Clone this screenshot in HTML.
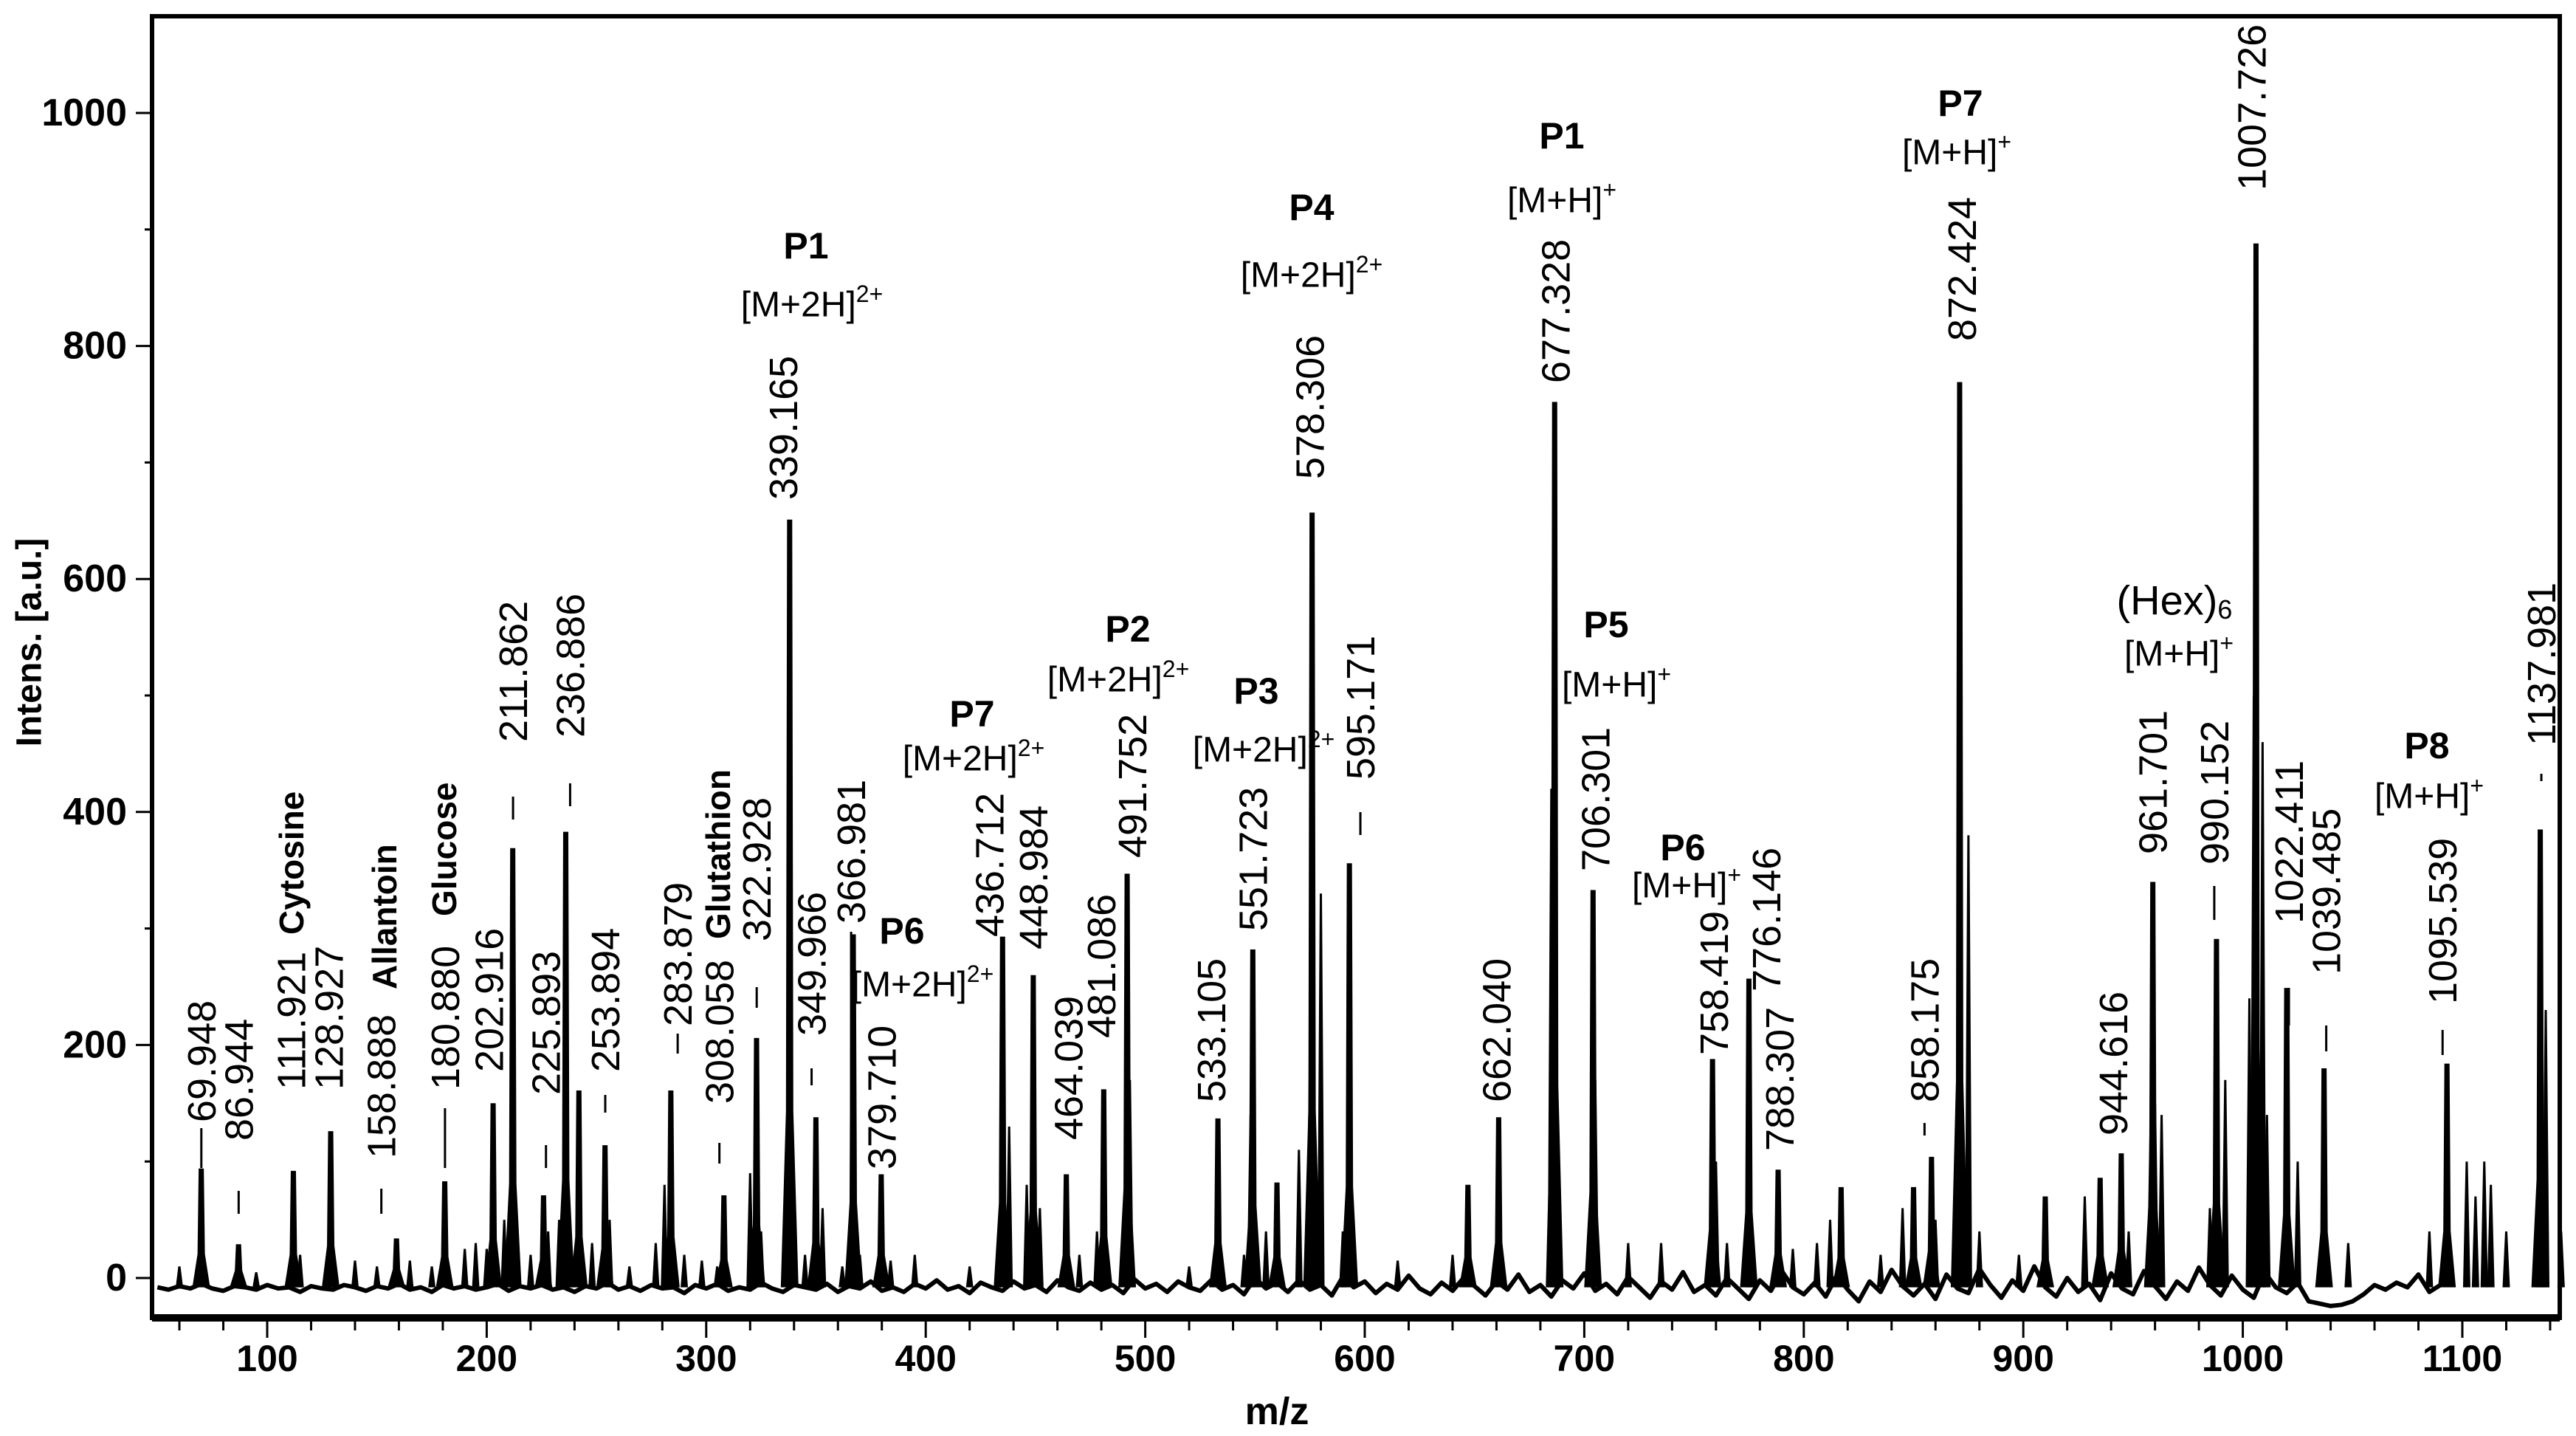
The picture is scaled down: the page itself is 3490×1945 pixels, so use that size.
<!DOCTYPE html>
<html><head><meta charset="utf-8"><style>
html,body{margin:0;padding:0;background:#fff;}
svg{display:block;}
text{font-family:"Liberation Sans",Arial,sans-serif;fill:#000;}
</style></head><body>
<svg id="chart" width="3490" height="1945" viewBox="0 0 3490 1945" xmlns="http://www.w3.org/2000/svg">
<rect x="0" y="0" width="3490" height="1945" fill="#fff"/>
<g id="trace"></g>
<g id="axes"></g>
<g id="labels"></g>
<g id="annots"></g>
</svg>
<script>
// ---- data ----
const baseStart = 50, baseStep = 5;
const baseline = [
-8,-10,-7,-9,-5,-9,-11,-7,-8,-10,-6,-9,-8,-12,-7,-9,-10,-6,-8,-11,
-7,-9,-5,-10,-8,-12,-6,-9,-7,-10,-8,-5,-11,-7,-9,-6,-10,-8,-12,-7,
-9,-4,-10,-7,-11,-6,-9,-8,-13,-6,-9,-5,-11,-8,-10,-4,-9,-12,-6,-8,
-10,-5,-12,-7,-9,-3,-11,-8,-12,-5,-9,-2,-10,-7,-13,-4,-8,-11,-3,-9,
-6,-12,-2,-8,-11,-4,-10,-6,-13,-1,-9,-5,-12,-3,-8,-11,-2,-10,-6,-14,
0,-9,-4,-12,-2,-10,-6,-15,1,-8,-3,-13,-5,-10,2,-9,-14,-4,-11,0,
-7,-15,-3,-10,3,-12,-6,-16,-2,-9,4,-11,-5,-14,1,-8,-17,-3,-10,5,
-12,-6,-15,0,-9,-18,-2,-11,6,-8,-14,-4,-16,2,-10,-20,-3,-12,7,-7,
-15,-5,-18,3,-9,-13,8,-6,-17,-2,-11,10,-8,-16,0,-12,-5,-19,4,-9,
-14,6,-7,-18,-3,-11,9,-6,-15,2,-10,-17,5,-8,-13,-4,-20,-22,-24,-23,
-20,-14,-6,-10,-4,-8,3,-12,-6,2
];
const peakMz = [69.948,86.944,111.921,128.927,158.888,180.88,202.916,211.862,225.893,236,242,253.894,283.879,308.058,322.928,338,349.966,366.981,379.71,435,448.984,464.039,481.086,491.752,533.105,549,560,576,593,647,661,686.5,704,758.419,775,788.307,817,850,858.175,871,910,935,944.616,959,988,1006,1020,1037,1093,1135.5];
const peakInt = [94,29,92,126,34,83,150,369,71,383,161,114,161,71,206,651,138,295,89,293,260,89,162,347,137,282,82,657,356,80,138,752,333,188,257,93,78,78,104,769,70,86,107,340,291,888,249,180,184,385];
const minorMz = [60,95,115,140,150,165,175,190,195,200,208,220,228,233,248,256,265,277,281,290,298,305,320,325,345,353,362,370,384,395,420,433,438,446,452,470,478,493,520,545,548,555,570,575,580,590,615,640,685,688,705,720,735,760,765,775,795,806,812,835,845,860,870,875,880,898,928,948,958,960,963,985,992,1003,1005,1009,1011,1020,1025,1048,1085,1102,1106,1110,1113,1120,1135,1138,1145];
const minorInt = [10,5,20,15,10,15,10,25,30,25,50,20,40,50,30,50,10,30,80,20,15,10,90,40,20,60,10,20,15,20,10,30,130,80,60,20,40,170,10,20,140,40,110,180,330,40,15,20,420,70,170,30,30,100,30,70,25,30,50,20,60,50,80,380,40,20,70,40,130,150,140,60,170,240,500,460,140,50,100,30,40,100,70,100,80,40,40,230,40];
const labelText = ["69.948","86.944","111.921","128.927","158.888","180.880","202.916","211.862","225.893","236.886","253.894","283.879","308.058","322.928","339.165","349.966","366.981","379.710","436.712","448.984","464.039","481.086","491.752","533.105","551.723","578.306","595.171","662.040","677.328","706.301","758.419","776.146","788.307","858.175","872.424","944.616","961.701","990.152","1007.726","1022.411","1039.485","1095.539","1137.981"];
// layout: label x position (m/z units), bottom of each rotated label (px), optional leader dash [y1,y2]
const labelMz = [70,87,111,128,152,181,201,212,227,238,254,287,306,323,335,348,366,380,429,449,465,480,494,530,549,575,598,660,687,705,759,783,789,855,872,941,959,987,1004,1021,1038,1091,1136];
const labelBottom = [1520,1545,1476,1476,1569,1476,1452,1005,1483,999,1452,1390,1495,1275,677,1403,1251,1584,1269,1286,1544,1406,1162,1493,1261,649,1056,1493,519,1180,1429,1343,1559,1493,462,1538,1157,1171,258,1251,1320,1360,1010];
const labelDash = [[1528,1582],[1613,1644],null,null,[1610,1644],[1501,1582],null,[1079,1110],[1551,1582],[1061,1092],[1483,1507],[1400,1427],[1548,1576],[1337,1365],null,[1447,1470],[1262,1560],null,null,null,null,null,null,null,null,null,[1100,1131],null,null,null,null,null,null,[1521,1538],null,null,null,[1200,1246],null,[1338,1389],[1389,1424],[1395,1429],[1048,1058]];
const yTicks = [0,200,400,600,800,1000];
const xTicks = [100,200,300,400,500,600,700,800,900,1000,1100];

// ---- axes functions ----
const L=206,R=3468,T=22,B=1785;
function X(m){return 362+(m-100)*2.974;}
function Y(v){return 1731-v*1.578;}
const NS="http://www.w3.org/2000/svg";
function mk(tag,attrs,parent){const e=document.createElementNS(NS,tag);for(const k in attrs)e.setAttribute(k,attrs[k]);parent.appendChild(e);return e;}

const trace=document.getElementById('trace');
let d="";
baseline.forEach((v,i)=>{const m=baseStart+i*baseStep;d+=(i?"L":"M")+X(m).toFixed(1)+","+Y(v).toFixed(1);});
const bp=mk('path',{d:d,fill:'none',stroke:'#000','stroke-width':6,'stroke-linejoin':'round'},trace);


minorMz.forEach((m,i)=>{
  const x=X(m),yt=Y(minorInt[i]),yb=Y(-8);
  const p=mk('polygon',{points:`${x-5},${yb} ${x-1.5},${yt} ${x+1.5},${yt} ${x+5},${yb}`,fill:'#000'},trace);
  
  
});
peakMz.forEach((m,i)=>{
  const x=X(m),h=peakInt[i],yt=Y(h),yb=Y(-8),ys=Y(h*0.22);
  const p=mk('polygon',{points:`${x-12},${yb} ${x-5},${ys} ${x-3.5},${yt} ${x+3.5},${yt} ${x+5},${ys} ${x+12},${yb}`,fill:'#000'},trace);
  
  
});

const ax=document.getElementById('axes');
const fr=mk('rect',{x:L,y:T,width:R-L,height:B-T,fill:'none',stroke:'#000','stroke-width':6},ax);


mk('line',{x1:L,y1:B,x2:R,y2:B,stroke:'#000','stroke-width':10},ax);
for(let v=0;v<=1000;v+=100){
  const major=v%200===0;
  mk('line',{x1:major?184:196,y1:Y(v),x2:L,y2:Y(v),stroke:'#000','stroke-width':3},ax);
}
yTicks.forEach(v=>{
  const t=mk('text',{x:172,y:Y(v),'text-anchor':'end','dominant-baseline':'central','font-size':52,'font-weight':'bold'},ax);
  t.textContent=v;
  
  
});
for(let m=60;m<=1140;m+=20){
  const major=m%100===0;
  mk('line',{x1:X(m),y1:B,x2:X(m),y2:major?1812:1802,stroke:'#000','stroke-width':3},ax);
}
xTicks.forEach(m=>{
  const t=mk('text',{x:X(m),y:1840,'text-anchor':'middle','dominant-baseline':'central','font-size':50,'font-weight':'bold'},ax);
  t.textContent=m;
  
  
});
const xt=mk('text',{x:1730,y:1912,'text-anchor':'middle','dominant-baseline':'central','font-size':52,'font-weight':'bold'},ax);
xt.textContent='m/z';


const yt=mk('text',{x:40,y:870,'text-anchor':'middle','dominant-baseline':'central','font-size':48,'font-weight':'bold',transform:'rotate(-90 40 870)'},ax);
yt.textContent='Intens. [a.u.]';



const lg=document.getElementById('labels');
labelText.forEach((s,i)=>{
  const x=X(labelMz[i]),yb=labelBottom[i];
  const t=mk('text',{x:x+19,y:yb,'font-size':54,transform:`rotate(-90 ${x+19} ${yb})`},lg);
  t.textContent=s;
  
  
  if(labelDash[i]){
    const dl=mk('line',{x1:x,y1:labelDash[i][0],x2:x,y2:labelDash[i][1],stroke:'#000','stroke-width':3},lg);
    
    
  }
});

const an=document.getElementById('annots');
const rotNames=[["Cytosine",394,1266],["Allantoin",520,1340],["Glucose",601,1241],["Glutathion",972,1272]];
rotNames.forEach(r=>{
  const t=mk('text',{x:r[1]+17,y:r[2],'font-size':46,'font-weight':'bold',transform:`rotate(-90 ${r[1]+17} ${r[2]})`},an);
  t.textContent=r[0];
  
  
});
const groups=[["P1",1092,333,"[M+2H]","2+",1100,413],["P4",1777,281,"[M+2H]","2+",1777,373],["P1",2116,184,"[M+H]","+",2116,272],
["P2",1528,852,"[M+2H]","2+",1515,921],["P7",1317,967,"[M+2H]","2+",1319,1028],["P3",1702,936,"[M+2H]","2+",1712,1016],
["P6",1222,1261,"[M+2H]","2+",1250,1334],["P5",2176,846,"[M+H]","+",2190,928],["P6",2280,1148,"[M+H]","+",2285,1200],
["P7",2656,140,"[M+H]","+",2651,207],["P8",3288,1010,"[M+H]","+",3291,1079]];
groups.forEach(g=>{
  const t=mk('text',{x:g[1],y:g[2],'text-anchor':'middle','dominant-baseline':'central','font-size':50,'font-weight':'bold'},an);
  t.textContent=g[0];
  
  
  const u=mk('text',{x:g[5],y:g[6],'text-anchor':'middle','dominant-baseline':'central','font-size':48},an);
  
  
  u.appendChild(document.createTextNode(g[3]));
  const s=mk('tspan',{'font-size':32,dy:-15},u);
  s.textContent=g[4];
});
const hx=mk('text',{x:2946,y:813,'text-anchor':'middle','dominant-baseline':'central','font-size':56},an);


hx.appendChild(document.createTextNode('(Hex)'));
const hs=mk('tspan',{'font-size':36,dy:12},hx);hs.textContent='6';
const hi=mk('text',{x:2952,y:886,'text-anchor':'middle','dominant-baseline':'central','font-size':48},an);


hi.appendChild(document.createTextNode('[M+H]'));
const his=mk('tspan',{'font-size':32,dy:-15},hi);his.textContent='+';
</script>
</body></html>
